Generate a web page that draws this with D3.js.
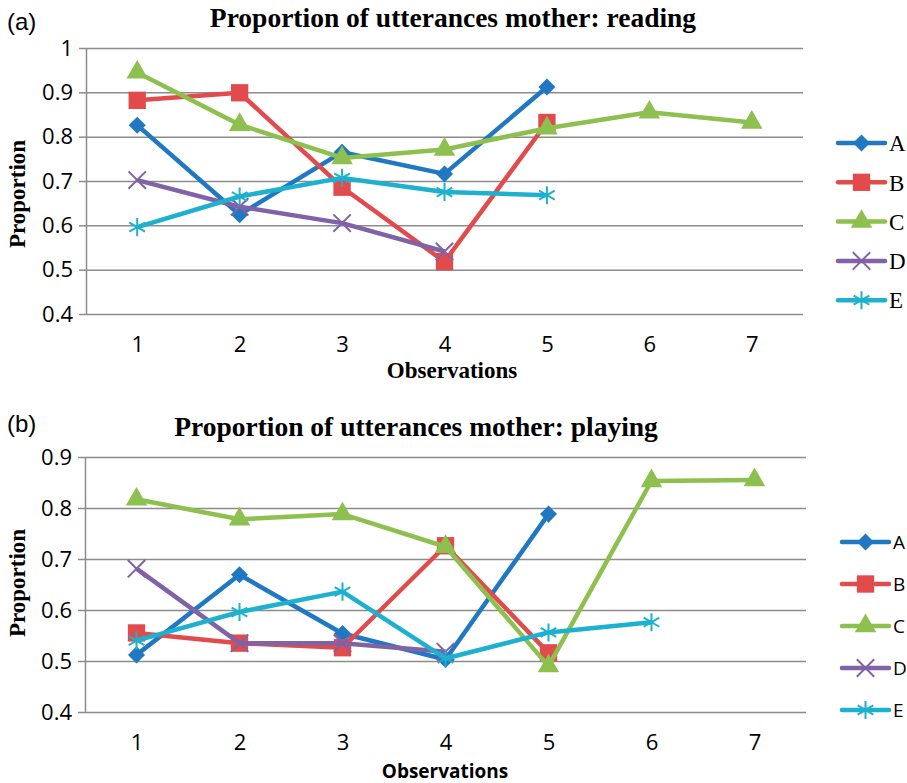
<!DOCTYPE html>
<html>
<head>
<meta charset="utf-8">
<title>Proportion of utterances mother</title>
<script src="https://d3js.org/d3.v7.min.js"></script>
<style>
  body { margin: 0; background: #fff; }
  svg text { fill: #000; }
</style>
</head>
<body>
<svg id="chart" width="907" height="783"></svg>
<script>
var observations = [1, 2, 3, 4, 5, 6, 7];
var seriesNames = ["A", "B", "C", "D", "E"];
var seriesColors = ["#1f78c1", "#e24b4b", "#8dc04f", "#8062a6", "#1db1cf"];
var seriesShapes = ["diamond", "square", "triangle", "times", "asterisk"];

// (a) reading
var readingA = [0.826, 0.624, 0.765, 0.716, 0.912];
var readingB = [0.882, 0.899, 0.686, 0.518, 0.832];
var readingC = [0.945, 0.827, 0.752, 0.771, 0.819, 0.855, 0.832];
var readingD = [0.702, 0.642, 0.605, 0.541];
var readingE = [0.596, 0.665, 0.707, 0.675, 0.668];
var readingTicks = [0.4, 0.5, 0.6, 0.7, 0.8, 0.9, 1];

// (b) playing
var playingA = [0.512, 0.669, 0.554, 0.503, 0.788];
var playingB = [0.555, 0.535, 0.526, 0.726, 0.516];
var playingC = [0.817, 0.778, 0.788, 0.724, 0.490, 0.853, 0.855];
var playingD = [0.681, 0.535, 0.535, 0.518];
var playingE = [0.540, 0.596, 0.636, 0.505, 0.556, 0.576];
var playingTicks = [0.4, 0.5, 0.6, 0.7, 0.8, 0.9];

var svg = d3.select("#chart");

function markerPath(shape) {
  var types = {
    diamond: d3.symbolSquare,
    square: d3.symbolSquare,
    triangle: d3.symbolTriangle,
    times: d3.symbolTimes || d3.symbolCross,
    asterisk: d3.symbolAsterisk || d3.symbolStar
  };
  var sizes = { diamond: 145, square: 300, triangle: 200, times: 200, asterisk: 230 };
  return d3.symbol().type(types[shape]).size(sizes[shape])();
}

function drawMarker(g, shape, color, cx, cy) {
  var stroked = (shape === "times" || shape === "asterisk");
  g.append("path")
    .attr("d", markerPath(shape))
    .attr("transform", "translate(" + cx + "," + cy + ")" + (shape === "diamond" ? " rotate(45)" : ""))
    .attr("fill", stroked ? "none" : color)
    .attr("stroke", stroked ? color : "none")
    .attr("stroke-width", stroked ? 2 : 0);
}

function drawPanel(p) {
  var g = svg.append("g");

  var x = d3.scalePoint().domain(observations).range([p.left, p.right]).padding(0.5);
  var y = d3.scaleLinear()
    .domain([p.ticks[0], p.ticks[p.ticks.length - 1]])
    .range([p.bottom, p.top]);

  // horizontal gridlines
  g.append("g")
    .attr("transform", "translate(" + p.left + ",0)")
    .call(d3.axisLeft(y).tickValues(p.ticks).tickSize(-(p.right - p.left)).tickFormat(""))
    .call(function (a) { a.select(".domain").remove(); })
    .selectAll("line").attr("stroke", "#8c8c8c").attr("stroke-width", 1.5);

  // y axis
  var yAx = g.append("g")
    .attr("transform", "translate(" + p.left + ",0)")
    .call(d3.axisLeft(y).tickValues(p.ticks).tickSize(7).tickSizeOuter(0).tickPadding(6)
      .tickFormat(function (d) { return String(d); }));
  yAx.selectAll("path, line").attr("stroke", "#8c8c8c").attr("stroke-width", 1.5);
  yAx.selectAll("text").attr("font-family", "'Open Sans', sans-serif").attr("font-size", 22).attr("fill", "#000");

  // x axis labels
  var xAx = g.append("g")
    .attr("transform", "translate(0," + p.bottom + ")")
    .call(d3.axisBottom(x).tickSize(0).tickPadding(22));
  xAx.select(".domain").remove();
  xAx.selectAll("text").attr("font-family", "'Open Sans', sans-serif").attr("font-size", 22).attr("fill", "#000");

  // series
  var line = d3.line()
    .x(function (d, i) { return x(observations[i]); })
    .y(function (d) { return y(d); });

  p.series.forEach(function (vals, k) {
    var sg = g.append("g");
    sg.append("path")
      .attr("d", line(vals))
      .attr("fill", "none")
      .attr("stroke", seriesColors[k])
      .attr("stroke-width", 4.5)
      .attr("stroke-linejoin", "round");
    vals.forEach(function (v, i) {
      drawMarker(sg, seriesShapes[k], seriesColors[k], x(observations[i]), y(v));
    });
  });

  // legend
  var lg = g.append("g");
  seriesNames.forEach(function (name, k) {
    var ly = p.legendY + k * p.legendStep;
    lg.append("line")
      .attr("x1", p.legendX).attr("x2", p.legendX + 47)
      .attr("y1", ly).attr("y2", ly)
      .attr("stroke", seriesColors[k]).attr("stroke-width", 4.5).attr("stroke-linecap", "round");
    drawMarker(lg, seriesShapes[k], seriesColors[k], p.legendX + 23.5, ly);
    lg.append("text")
      .attr("x", p.legendX + 51).attr("y", ly).attr("dy", "0.36em")
      .attr("font-family", p.legendFont).attr("font-size", p.legendSize)
      .text(name);
  });

  // titles
  g.append("text")
    .attr("x", 7).attr("y", p.tagY)
    .attr("font-family", "'Liberation Sans', Arial, sans-serif").attr("font-size", 24)
    .text(p.tag);
  g.append("text")
    .attr("x", p.titleX).attr("y", p.titleY).attr("text-anchor", "middle")
    .attr("font-family", "'Liberation Serif', 'Times New Roman', serif")
    .attr("font-weight", "bold").attr("font-size", 27.5)
    .text(p.title);
  g.append("text")
    .attr("transform", "translate(25," + p.yLabelY + ") rotate(-90)")
    .attr("text-anchor", "middle")
    .attr("font-family", "'Liberation Serif', 'Times New Roman', serif")
    .attr("font-weight", "bold").attr("font-size", 23)
    .text("Proportion");
  g.append("text")
    .attr("x", p.xLabelX).attr("y", p.xLabelY).attr("text-anchor", "middle")
    .attr("font-family", p.xLabelFont).attr("font-weight", "bold").attr("font-size", p.xLabelSize)
    .text("Observations");
}

drawPanel({
  tag: "(a)", tagY: 30,
  title: "Proportion of utterances mother: reading", titleX: 453, titleY: 27,
  left: 86, right: 803, top: 48, bottom: 314,
  ticks: readingTicks,
  series: [readingA, readingB, readingC, readingD, readingE],
  legendX: 838, legendY: 143, legendStep: 39.3,
  legendFont: "'Liberation Serif', 'Times New Roman', serif", legendSize: 23,
  yLabelY: 194,
  xLabelX: 452, xLabelY: 378,
  xLabelFont: "'Liberation Serif', 'Times New Roman', serif", xLabelSize: 23
});

drawPanel({
  tag: "(b)", tagY: 432,
  title: "Proportion of utterances mother: playing", titleX: 416, titleY: 436,
  left: 85, right: 806, top: 457, bottom: 712,
  ticks: playingTicks,
  series: [playingA, playingB, playingC, playingD, playingE],
  legendX: 842, legendY: 542, legendStep: 42,
  legendFont: "'Open Sans', sans-serif", legendSize: 19,
  yLabelY: 583,
  xLabelX: 445, xLabelY: 778,
  xLabelFont: "'Open Sans', sans-serif", xLabelSize: 19
});
</script>
</body>
</html>
